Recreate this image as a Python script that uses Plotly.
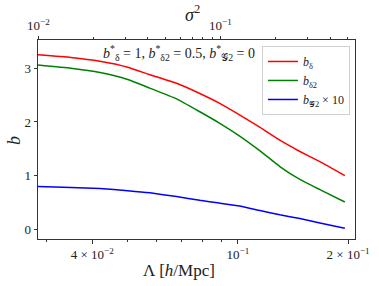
import plotly.graph_objects as go

lam = [0.02845, 0.0350, 0.0420, 0.0500, 0.0575, 0.0680, 0.0787, 0.0890, 0.1000, 0.1150, 0.1302, 0.1477, 0.1675, 0.1960]
b_delta = [3.25, 3.20, 3.13, 3.02, 2.88, 2.72, 2.53, 2.35, 2.15, 1.90, 1.66, 1.45, 1.26, 1.00]
b_delta2 = [3.06, 3.00, 2.92, 2.79, 2.63, 2.43, 2.19, 1.98, 1.76, 1.46, 1.17, 0.93, 0.74, 0.51]
b_g2x10 = [0.80, 0.78, 0.76, 0.72, 0.68, 0.61, 0.54, 0.49, 0.44, 0.35, 0.27, 0.20, 0.12, 0.02]

x_ticks = [0.04, 0.1, 0.2]
x_ticktext = ["4 × 10<sup>−2</sup>", "10<sup>−1</sup>", "2 × 10<sup>−1</sup>"]
x_minor = [0.03, 0.05, 0.06, 0.07, 0.08, 0.09]
top_ticks = [0.01, 0.1]
top_ticktext = ["10<sup>−2</sup>", "10<sup>−1</sup>"]
top_minor = [0.02, 0.03, 0.04, 0.05, 0.06, 0.07, 0.08, 0.09, 0.2, 0.3, 0.4, 0.5]
y_ticks = [0, 1, 2, 3]

FONT = "Liberation Serif"
AX = "#333333"
G = '<span style="font-family:DejaVu Sans">𝒢</span>'

fig = go.Figure()
fig.add_trace(go.Scatter(x=lam, y=b_delta, mode="lines", line=dict(color="#ff0000", width=1.5, shape="spline", smoothing=0.4),
                         name="<i>b</i><sub>δ</sub>"))
fig.add_trace(go.Scatter(x=lam, y=b_delta2, mode="lines", line=dict(color="#008000", width=1.5, shape="spline", smoothing=0.4),
                         name="<i>b</i><sub>δ2</sub>"))
fig.add_trace(go.Scatter(x=lam, y=b_g2x10, mode="lines", line=dict(color="#0000ff", width=1.5, shape="spline", smoothing=0.4),
                         name="<i>b</i><sub>" + G + "2</sub> × 10"))
fig.add_trace(go.Scatter(x=[0.05], y=[1], xaxis="x2", mode="markers", marker=dict(opacity=0), showlegend=False, hoverinfo="skip"))

fig.update_layout(
    width=379, height=286,
    margin=dict(l=38, r=24, t=40, b=47, autoexpand=False),
    paper_bgcolor="white", plot_bgcolor="white",
    font=dict(family=FONT, size=12, color="#222222"),
    showlegend=True,
    legend=dict(x=0.984, y=0.97, xanchor="right", yanchor="top",
                bgcolor="rgba(255,255,255,0.8)", bordercolor="#d0d0d0", borderwidth=1,
                font=dict(family=FONT, size=12), tracegroupgap=0, itemwidth=30),
    xaxis=dict(type="log", range=[-1.546, -0.680], automargin=False,
               tickmode="array", tickvals=x_ticks, ticktext=x_ticktext,
               ticks="outside", ticklen=3.5, tickwidth=0.8, tickcolor=AX,
               minor=dict(tickmode="array", tickvals=x_minor, ticks="outside", ticklen=2, tickwidth=0.6, tickcolor=AX),
               showline=True, linecolor=AX, linewidth=1, mirror=False,
               showgrid=False, zeroline=False,
               tickfont=dict(family=FONT, size=13)),
    xaxis2=dict(type="log", range=[-2.002, -0.261], overlaying="x", side="top", automargin=False,
                tickmode="array", tickvals=top_ticks, ticktext=top_ticktext,
                ticks="outside", ticklen=3.5, tickwidth=0.8, tickcolor=AX,
                minor=dict(tickmode="array", tickvals=top_minor, ticks="outside", ticklen=2, tickwidth=0.6, tickcolor=AX),
                showline=True, linecolor=AX, linewidth=1,
                showgrid=False, zeroline=False,
                tickfont=dict(family=FONT, size=13)),
    yaxis=dict(range=[-0.18, 3.527], automargin=False,
               tickmode="array", tickvals=y_ticks,
               ticks="outside", ticklen=3.5, tickwidth=0.8, tickcolor=AX,
               showline=True, linecolor=AX, linewidth=1, mirror=True,
               showgrid=False, zeroline=False,
               tickfont=dict(family=FONT, size=13)),
)

fig.add_annotation(xref="paper", yref="paper", x=0.445, y=-0.156, xanchor="center", yanchor="middle",
                   text="Λ [<i>h</i>/Mpc]", showarrow=False, font=dict(family=FONT, size=17))
fig.add_annotation(xref="paper", yref="paper", x=0.487, y=1.135, xanchor="center", yanchor="middle",
                   text="<i>σ</i><sup>2</sup>", showarrow=False, font=dict(family=FONT, size=18))
fig.add_annotation(xref="paper", yref="paper", x=-0.076, y=0.497, xanchor="center", yanchor="middle",
                   text="<i>b</i>", showarrow=False, textangle=-90, font=dict(family=FONT, size=18))
fig.add_annotation(xref="paper", yref="paper", x=0.445, y=0.995, xanchor="center", yanchor="top",
                   text="<i>b</i><sup>*</sup><sub>δ</sub> = 1, <i>b</i><sup>*</sup><sub>δ2</sub> = 0.5, <i>b</i><sup>*</sup><sub>" + G + "2</sub> = 0",
                   showarrow=False, font=dict(family=FONT, size=14))

fig.write_html("out.html", config={"displayModeBar": False},
               post_script="document.body.style.margin='0';document.body.style.overflow='hidden';")
